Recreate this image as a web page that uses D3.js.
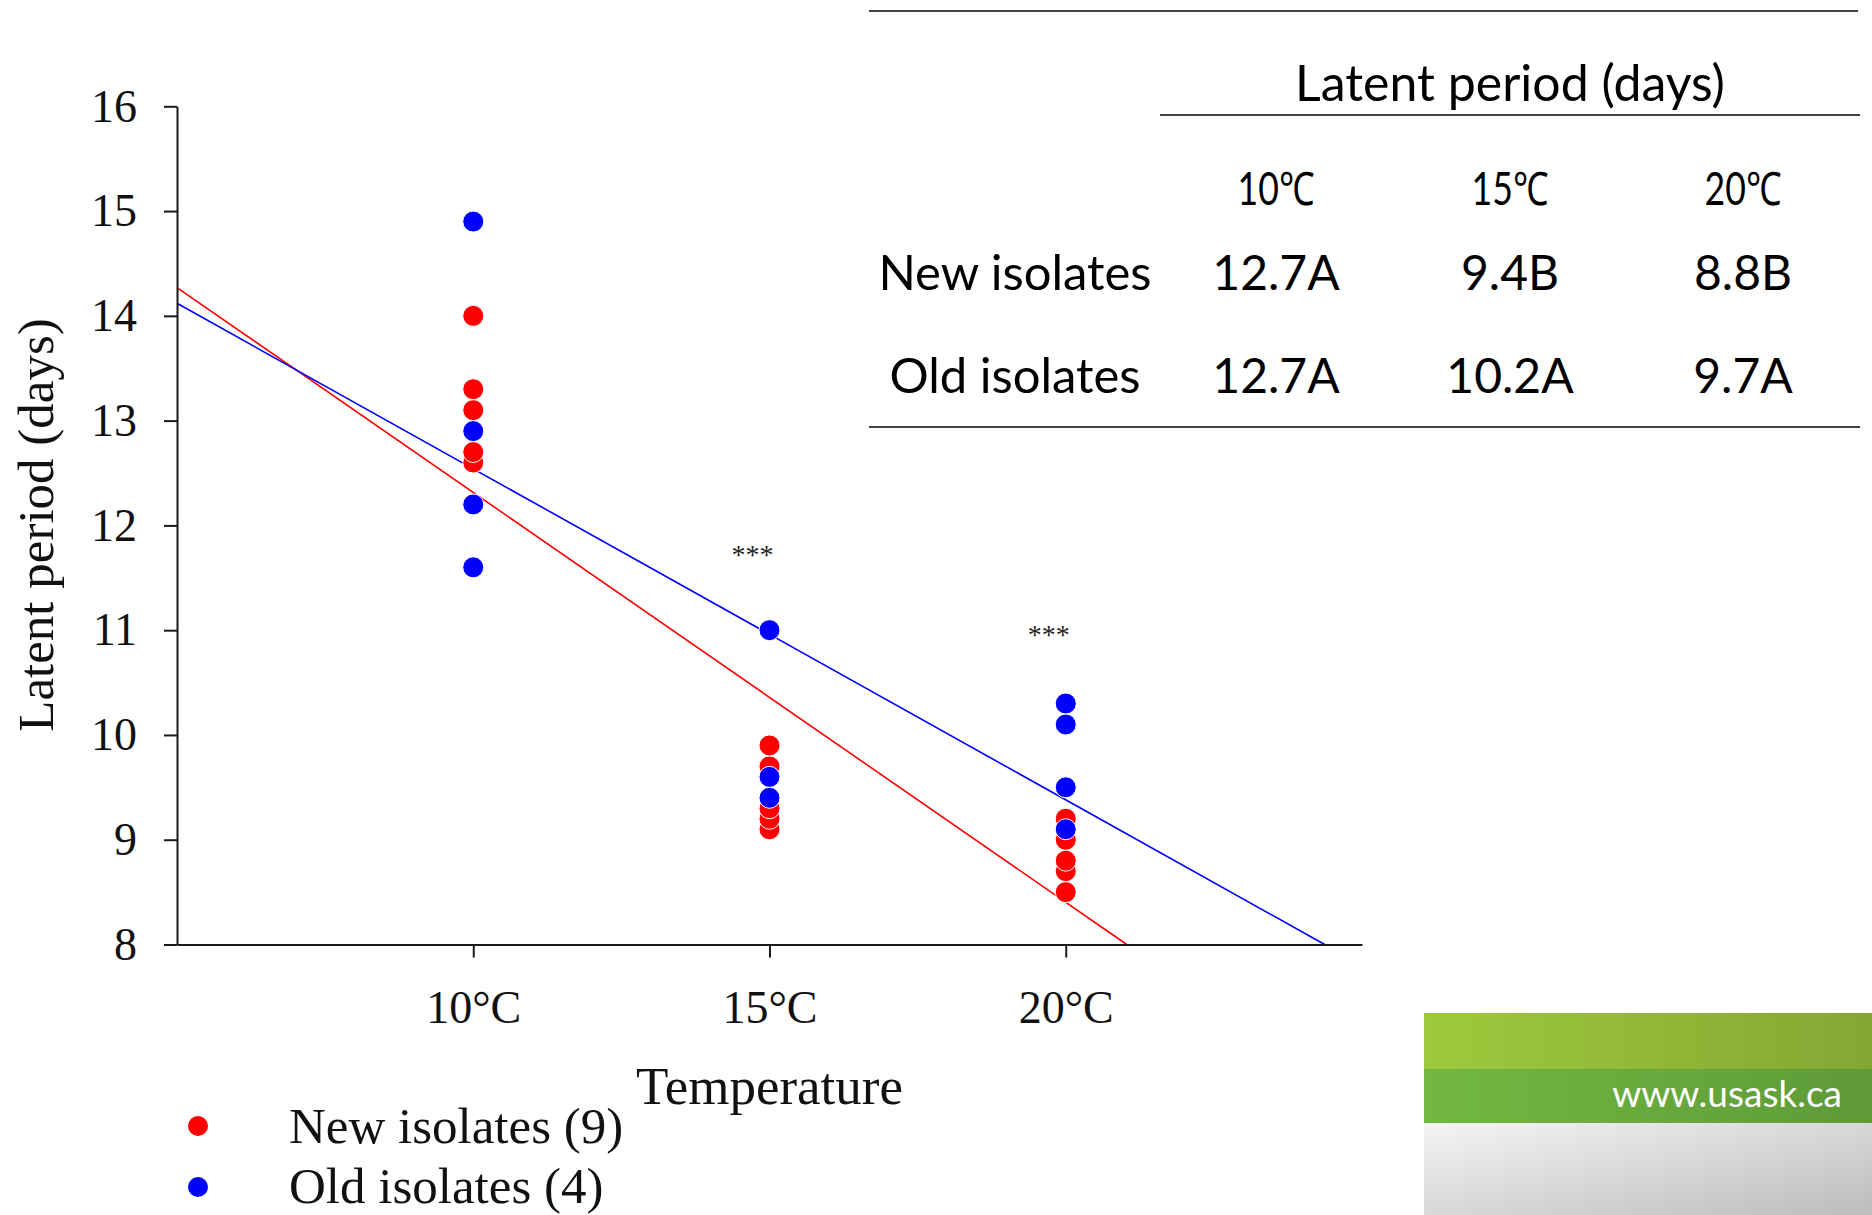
<!DOCTYPE html>
<html><head><meta charset="utf-8">
<script src="https://cdn.jsdelivr.net/npm/d3@7/dist/d3.min.js"></script>
<style>body{margin:0;background:#fff;} svg{display:block}</style>
</head><body>
<svg id="chart" width="1872" height="1215"></svg>
<script>
// ---------- data ----------
const temperatureTicks = [10, 15, 20];
const latentTicks = [8, 9, 10, 11, 12, 13, 14, 15, 16];
const newIsolatePoints = [[10,14.0],[10,13.3],[10,13.1],[10,12.7],[10,12.6],
                          [15,9.9],[15,9.7],[15,9.3],[15,9.2],[15,9.1],
                          [20,9.2],[20,9.0],[20,8.8],[20,8.7],[20,8.5]];
const oldIsolatePoints = [[10,14.9],[10,12.9],[10,12.2],[10,11.6],
                          [15,11.0],[15,9.6],[15,9.4],
                          [20,10.3],[20,10.1],[20,9.5],[20,9.1]];
const newFitLine = [[5,14.27],[21.03,8.0]];
const oldFitLine = [[5,14.12],[24.37,8.0]];
const significanceTemps = [15, 20];
const significanceLevels = [11.63, 10.87];
const legendLabels = ["New isolates (9)", "Old isolates (4)"];
const tableTitle = "Latent period (days)";
const tableColumns = ["10\u2103", "15\u2103", "20\u2103"];
const tableRows = ["New isolates", "Old isolates"];
const newIsolateMeans = ["12.7A", "9.4B", "8.8B"];
const oldIsolateMeans = ["12.7A", "10.2A", "9.7A"];

// ---------- setup ----------
const RED = "#ff0000", BLUE = "#0000ff";
const serif = "'Liberation Serif','Times New Roman',serif";
const sans = "Lato,'Open Sans',sans-serif";
const svg = d3.select("#chart");

const x = d3.scaleLinear().domain([5, 25]).range([177, 1362]);
const y = d3.scaleLinear().domain([8, 16]).range([944.5, 106.3]);

// regression lines
const line = d3.line().x(d => x(d[0])).y(d => y(d[1]));
svg.append("path").attr("d", line(newFitLine)).attr("fill","none").attr("stroke",RED).attr("stroke-width",1.6);
svg.append("path").attr("d", line(oldFitLine)).attr("fill","none").attr("stroke",BLUE).attr("stroke-width",1.6);

// axes
const xAxis = svg.append("g").attr("transform", `translate(0,${y(8)})`)
  .call(d3.axisBottom(x).tickValues(temperatureTicks).tickFormat(d => d + "°C")
        .tickSize(13).tickPadding(33).tickSizeOuter(0));
const yAxis = svg.append("g").attr("transform", `translate(${x(5)},0)`)
  .call(d3.axisLeft(y).tickValues(latentTicks).tickFormat(d3.format("d"))
        .tickSize(13).tickPadding(27).tickSizeOuter(0));
[xAxis, yAxis].forEach(a => {
  a.select(".domain").attr("stroke", "#1a1a1a").attr("stroke-width", 2);
  a.selectAll(".tick line").attr("stroke", "#1a1a1a").attr("stroke-width", 2);
  a.selectAll(".tick text").attr("font-family", serif).attr("font-size", 46).attr("fill", "#111");
});

// points
const sortAsc = arr => arr.slice().sort((a, b) => a[1] - b[1]);
svg.append("g").selectAll("circle").data(sortAsc(newIsolatePoints)).join("circle")
  .attr("cx", d => x(d[0])).attr("cy", d => y(d[1])).attr("r", 10.5)
  .attr("fill", RED).attr("stroke", "#fff").attr("stroke-width", 1);
svg.append("g").selectAll("circle").data(sortAsc(oldIsolatePoints)).join("circle")
  .attr("cx", d => x(d[0])).attr("cy", d => y(d[1])).attr("r", 10.5)
  .attr("fill", BLUE).attr("stroke", "#fff").attr("stroke-width", 1);

// significance marks
svg.append("g").selectAll("text").data(significanceTemps).join("text")
  .attr("x", d => x(d) - 17).attr("y", (d, i) => y(significanceLevels[i]))
  .attr("text-anchor", "middle").attr("font-family", serif).attr("font-size", 28)
  .attr("fill", "#222").text("***");

// axis titles
svg.append("text").attr("transform", "translate(53,525) rotate(-90)")
  .attr("text-anchor", "middle").attr("font-family", serif).attr("font-size", 51)
  .attr("fill", "#111").text("Latent period (days)");
svg.append("text").attr("x", x(15)).attr("y", 1104)
  .attr("text-anchor", "middle").attr("font-family", serif).attr("font-size", 53)
  .attr("fill", "#111").text("Temperature");

// legend
const legend = svg.append("g");
legendLabels.forEach((lab, i) => {
  legend.append("circle").attr("cx", 198).attr("cy", 1126 + i * 61).attr("r", 10)
    .attr("fill", i === 0 ? RED : BLUE);
  legend.append("text").attr("x", 289).attr("y", 1143 + i * 60)
    .attr("font-family", serif).attr("font-size", 51).attr("fill", "#111").text(lab);
});

// ---------- table ----------
const tbl = svg.append("g");
const ruleColor = "#444";
tbl.append("line").attr("x1", 869).attr("x2", 1858).attr("y1", 11).attr("y2", 11).attr("stroke", ruleColor).attr("stroke-width", 2);
tbl.append("line").attr("x1", 1160).attr("x2", 1860).attr("y1", 115).attr("y2", 115).attr("stroke", ruleColor).attr("stroke-width", 2);
tbl.append("line").attr("x1", 869).attr("x2", 1860).attr("y1", 427).attr("y2", 427).attr("stroke", ruleColor).attr("stroke-width", 2);
tbl.append("text").attr("x", 1510).attr("y", 101).attr("text-anchor", "middle")
  .attr("font-family", sans).attr("font-size", 50).attr("fill", "#000").text(tableTitle);
const colX = [1276, 1510, 1743];
tableColumns.forEach((c, i) => {
  tbl.append("text").attr("x", colX[i]).attr("y", 205).attr("text-anchor", "middle")
    .attr("font-family", sans).attr("font-size", 46).attr("fill", "#000")
    .attr("textLength", 77).attr("lengthAdjust", "spacingAndGlyphs").text(c);
});
const rowY = [290, 393];
tableRows.forEach((r, i) => {
  tbl.append("text").attr("x", 1015).attr("y", rowY[i]).attr("text-anchor", "middle")
    .attr("font-family", sans).attr("font-size", 49).attr("fill", "#000").text(r);
});
[newIsolateMeans, oldIsolateMeans].forEach((row, ri) => {
  row.forEach((v, ci) => {
    tbl.append("text").attr("x", colX[ci]).attr("y", rowY[ri]).attr("text-anchor", "middle")
      .attr("font-family", sans).attr("font-size", 48).attr("fill", "#000").text(v);
  });
});

// ---------- banner ----------
const defs = svg.append("defs");
function grad(id, c1, c2, x2, y2) {
  const g = defs.append("linearGradient").attr("id", id).attr("x1", 0).attr("y1", 0).attr("x2", x2).attr("y2", y2);
  g.append("stop").attr("offset", 0).attr("stop-color", c1);
  g.append("stop").attr("offset", 1).attr("stop-color", c2);
}
grad("gTop", "#9ec93c", "#84a733", 1, 0);
grad("gMid", "#73b842", "#5e9a38", 1, 0);
grad("gBot", "#f4f4f4", "#bcbcbc", 1, 1);
svg.append("rect").attr("x", 1424).attr("y", 1013).attr("width", 448).attr("height", 56).attr("fill", "url(#gTop)");
svg.append("rect").attr("x", 1424).attr("y", 1069).attr("width", 448).attr("height", 54).attr("fill", "url(#gMid)");
svg.append("rect").attr("x", 1424).attr("y", 1123).attr("width", 448).attr("height", 92).attr("fill", "url(#gBot)");
svg.append("text").attr("x", 1842).attr("y", 1107).attr("text-anchor", "end")
  .attr("font-family", sans).attr("font-size", 37).attr("fill", "#fff").text("www.usask.ca");
</script>
</body></html>
